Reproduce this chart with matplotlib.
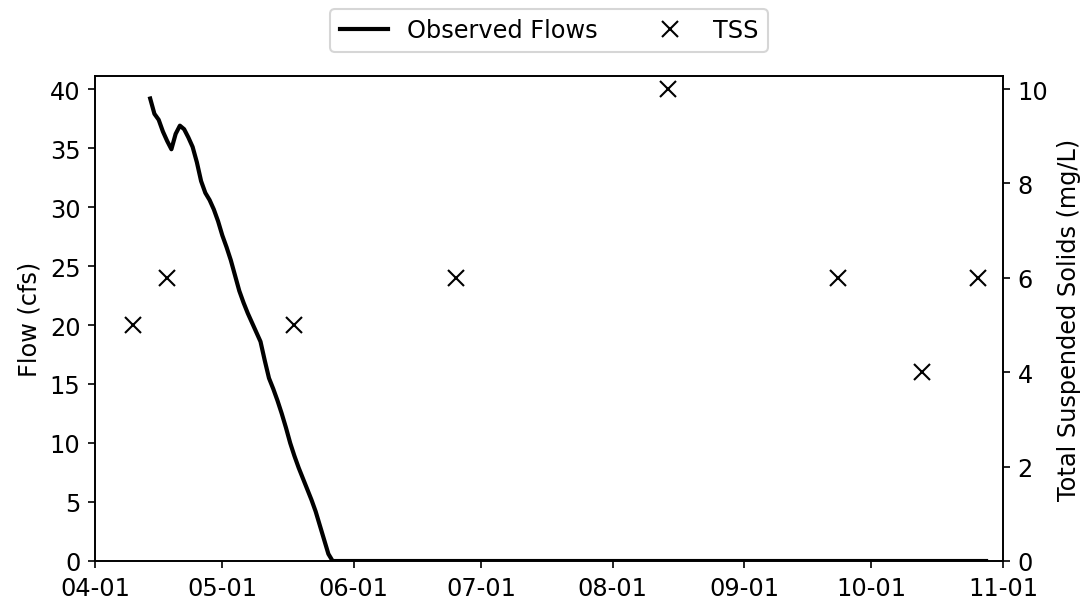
import datetime
import matplotlib
matplotlib.use('Agg')
import matplotlib.pyplot as plt
import matplotlib.dates as mdates

# Observed flow (cfs), daily from Apr 14
flow_start = datetime.date(2021, 4, 14)
flow_falling = [39.2, 37.9, 37.4, 36.4, 35.6, 34.9, 36.2, 36.9, 36.6, 35.9,
                35.1, 33.8, 32.2, 31.2, 30.6, 29.8, 28.8, 27.6, 26.6, 25.5,
                24.2, 22.9, 21.9, 21.0, 20.2, 19.4, 18.6, 17.0, 15.5, 14.6,
                13.6, 12.5, 11.3, 10.0, 8.9, 7.9, 7.0, 6.1, 5.2, 4.2,
                3.0, 1.8, 0.6, 0.0]
flow_zero_days = 154
flow_values = flow_falling + [0.0] * flow_zero_days
flow_dates = [flow_start + datetime.timedelta(days=i) for i in range(len(flow_values))]

# TSS samples (mg/L)
tss_dates = [datetime.date(2021, 4, 10), datetime.date(2021, 4, 18),
             datetime.date(2021, 5, 18), datetime.date(2021, 6, 25),
             datetime.date(2021, 8, 14), datetime.date(2021, 9, 23),
             datetime.date(2021, 10, 13), datetime.date(2021, 10, 26)]
tss_values = [5, 6, 5, 6, 10, 6, 4, 6]

plt.rcParams['font.size'] = 11.5

fig = plt.figure(figsize=(7.24, 4.013), dpi=150)
ax = fig.add_axes([0.0875, 0.0664, 0.8361, 0.8056])
ax2 = ax.twinx()

l1, = ax.plot(flow_dates, flow_values, color='black', lw=2, label='Observed Flows')
l2, = ax2.plot(tss_dates, tss_values, 'x', color='black', markersize=7.5, label='TSS')

ax.set_xlim(datetime.date(2021, 4, 1), datetime.date(2021, 11, 1))
ax.set_ylim(0, 41.1)
ax2.set_ylim(0, 10.275)
ax.set_yticks(range(0, 41, 5))
ax2.set_yticks(range(0, 11, 2))
ax.xaxis.set_major_locator(mdates.MonthLocator())
ax.xaxis.set_major_formatter(mdates.DateFormatter('%m-%d'))

ax.set_ylabel('Flow (cfs)')
ax2.set_ylabel('Total Suspended Solids (mg/L)')

ax.legend(handles=[l1, l2], loc='lower center', bbox_to_anchor=(0.5, 1.025), ncol=2)

fig.savefig('out.png', dpi=150)
